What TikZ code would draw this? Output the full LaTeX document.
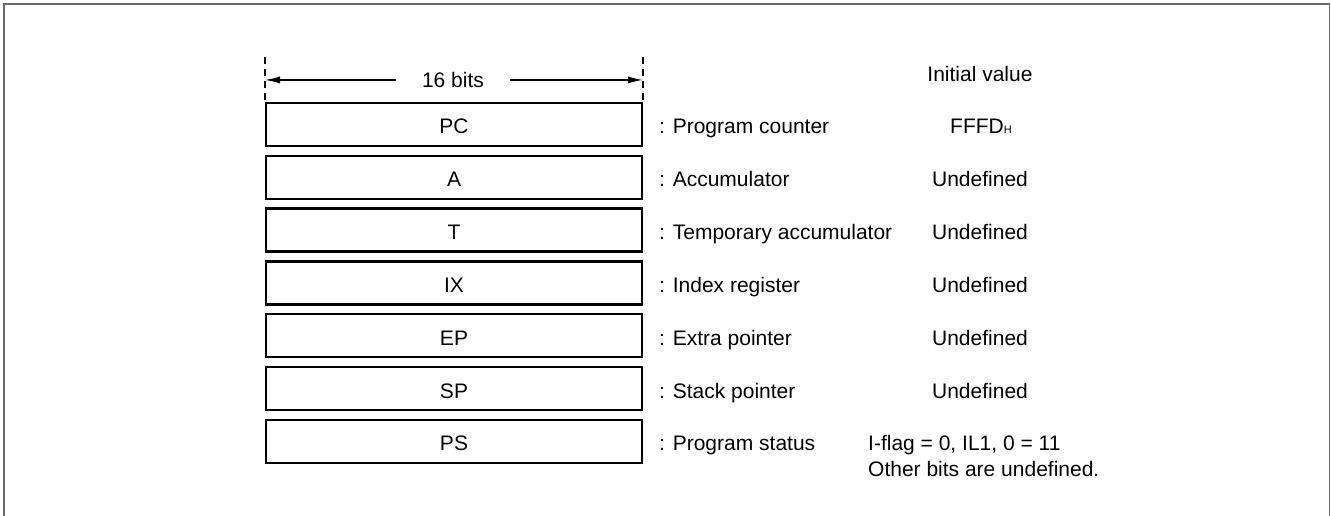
\documentclass[tikz,border=0pt]{standalone}
\usepackage{fontspec}
\setmainfont{Liberation Sans}
\usetikzlibrary{arrows.meta}
\definecolor{framegray}{HTML}{6A6A6A}
\tikzset{
  regbox/.style={draw=black, line width=2.5pt, minimum width=376pt, minimum height=43pt,
    inner sep=0pt, text height=19pt, text depth=0pt},
  lbl/.style={anchor=base west, inner sep=0pt},
  val/.style={anchor=base, inner sep=0pt},
  dimline/.style={line width=1.2pt, -{Latex[length=15pt,width=7pt]}},
  guide/.style={line width=1.1pt, dash pattern=on 7pt off 5pt},
  frameline/.style={draw=framegray, line width=1.6pt}
}
\begin{document}
\begin{tikzpicture}[x=1pt,y=-1pt,font=\fontsize{21}{25}\selectfont]
\useasboundingbox (0,0) rectangle (1331,516);
\draw[frameline] (4,530) -- (4,4) -- (1329.5,4) -- (1329.5,530);

\node[regbox] (pc) at (454,124.5) {PC};
\node[regbox] (a)  at (454,177.3) {A};
\node[regbox] (t)  at (454,230.1) {T};
\node[regbox] (ix) at (454,282.9) {IX};
\node[regbox] (ep) at (454,335.7) {EP};
\node[regbox] (sp) at (454,388.5) {SP};
\node[regbox] (ps) at (454,441.3) {PS};

\coordinate (gl) at (265,57);
\coordinate (gr) at (643,57);
\draw[guide] (gl) -- (gl |- pc.north);
\draw[guide] (gr) -- (gr |- pc.north);
\node[inner xsep=26pt, inner ysep=0pt, text height=15.5pt, text depth=0pt, anchor=base] (bits) at (453,87.7) {16 bits};
\draw[dimline] (bits.west) -- (bits.west -| gl);
\draw[dimline] (bits.east) -- (bits.east -| gr);

\node[val] (iv) at (980,81.7) {Initial value};

\node[lbl] (pcl) at (659,134.0) {: Program counter};
\node[lbl] (al)  at (659,186.8) {: Accumulator};
\node[lbl] (tl)  at (659,239.6) {: Temporary accumulator};
\node[lbl] (ixl) at (659,292.4) {: Index register};
\node[lbl] (epl) at (659,345.2) {: Extra pointer};
\node[lbl] (spl) at (659,398.0) {: Stack pointer};
\node[lbl] (psl) at (659,450.8) {: Program status};

\node[val] (pcv) at (981,134.0) {FFFD{\fontsize{11}{13}\selectfont H}};
\node[val] (av)  at (980,186.8) {Undefined};
\node[val] (tv)  at (980,239.6) {Undefined};
\node[val] (ixv) at (980,292.4) {Undefined};
\node[val] (epv) at (980,345.2) {Undefined};
\node[val] (spv) at (980,398.0) {Undefined};
\node[lbl] (psv) at (868,450.8) {I-flag = 0, IL1, 0 = 11};
\node[lbl] (psv2) at (868,476.8) {Other bits are undefined.};
\end{tikzpicture}
\end{document}
